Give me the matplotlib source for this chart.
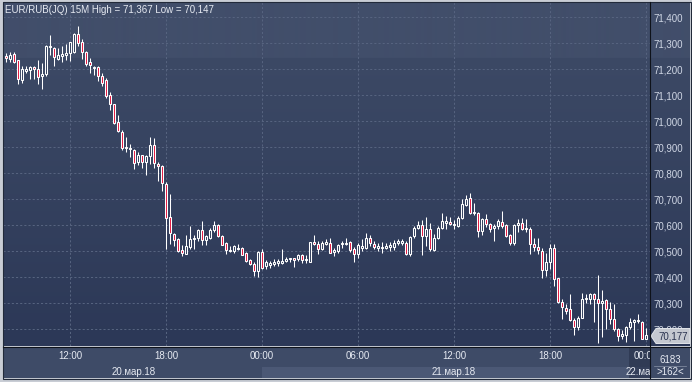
import matplotlib
matplotlib.use("Agg")
import matplotlib.pyplot as plt
import numpy as np
from matplotlib.patches import Rectangle, Polygon
from matplotlib.lines import Line2D
from matplotlib.colors import to_rgb

plt.rcParams['font.family'] = ['Liberation Sans', 'DejaVu Sans']

# EUR/RUB 15M candles, index -1 = 07:45 20.03, index 160 = 00:00 22.03
first_idx = -1
opens = [71.262, 71.252, 71.241, 71.258, 71.234, 71.157, 71.192, 71.196, 71.209, 71.201, 71.173,
         71.182, 71.285, 71.281, 71.239, 71.252, 71.254, 71.262, 71.266, 71.334, 71.304,
         71.265, 71.227, 71.205, 71.209, 71.176, 71.157, 71.100, 71.067, 70.997, 70.959,
         70.898, 70.894, 70.888, 70.844, 70.869, 70.844, 70.867, 70.908, 70.837, 70.828,
         70.760, 70.632, 70.568, 70.549, 70.504, 70.491, 70.517, 70.546, 70.551, 70.583,
         70.542, 70.551, 70.581, 70.603, 70.559, 70.533, 70.501, 70.500, 70.508, 70.513,
         70.494, 70.465, 70.453, 70.423, 70.497, 70.442, 70.449, 70.453, 70.456, 70.456,
         70.462, 70.469, 70.474, 70.472, 70.485, 70.465, 70.460, 70.536, 70.527, 70.510,
         70.527, 70.531, 70.499, 70.501, 70.527, 70.529, 70.536, 70.508, 70.491, 70.514,
         70.514, 70.553, 70.529, 70.514, 70.513, 70.514, 70.517, 70.518, 70.531, 70.533,
         70.533, 70.488, 70.559, 70.591, 70.600, 70.559, 70.585, 70.505, 70.550, 70.591,
         70.610, 70.614, 70.600, 70.597, 70.629, 70.677, 70.704, 70.646, 70.649, 70.578,
         70.626, 70.604, 70.591, 70.597, 70.613, 70.600, 70.562, 70.531, 70.600, 70.610,
         70.591, 70.587, 70.529, 70.518, 70.501, 70.428, 70.460, 70.514, 70.399, 70.305,
         70.283, 70.277, 70.236, 70.210, 70.245, 70.315, 70.315, 70.337, 70.315, 70.303,
         70.312, 70.279, 70.241, 70.203, 70.174, 70.177, 70.210, 70.228, 70.232, 70.228,
         70.164]
highs = [71.272, 71.262, 71.265, 71.265, 71.237, 71.211, 71.211, 71.214, 71.214, 71.237, 71.224,
         71.294, 71.332, 71.287, 71.281, 71.290, 71.296, 71.306, 71.338, 71.367, 71.315,
         71.272, 71.243, 71.214, 71.211, 71.186, 71.167, 71.113, 71.068, 71.023, 70.968,
         70.940, 70.914, 70.895, 70.882, 70.872, 70.869, 70.940, 70.936, 70.844, 70.833,
         70.767, 70.722, 70.570, 70.551, 70.523, 70.564, 70.596, 70.564, 70.587, 70.615,
         70.564, 70.590, 70.617, 70.606, 70.564, 70.536, 70.519, 70.523, 70.529, 70.517,
         70.497, 70.472, 70.459, 70.500, 70.508, 70.465, 70.463, 70.469, 70.472, 70.508,
         70.478, 70.476, 70.476, 70.488, 70.488, 70.485, 70.537, 70.562, 70.540, 70.540,
         70.546, 70.553, 70.514, 70.527, 70.540, 70.553, 70.540, 70.518, 70.531, 70.549,
         70.569, 70.562, 70.540, 70.531, 70.536, 70.531, 70.536, 70.544, 70.546, 70.549,
         70.540, 70.559, 70.597, 70.617, 70.621, 70.633, 70.610, 70.565, 70.597, 70.649,
         70.636, 70.633, 70.621, 70.636, 70.700, 70.715, 70.726, 70.687, 70.651, 70.629,
         70.645, 70.610, 70.604, 70.626, 70.655, 70.604, 70.565, 70.604, 70.623, 70.629,
         70.623, 70.595, 70.553, 70.553, 70.514, 70.492, 70.529, 70.529, 70.399, 70.318,
         70.296, 70.335, 70.245, 70.251, 70.338, 70.335, 70.341, 70.341, 70.408, 70.351,
         70.318, 70.305, 70.296, 70.206, 70.197, 70.213, 70.245, 70.241, 70.258, 70.232,
         70.206]
lows = [71.249, 71.230, 71.227, 71.224, 71.142, 71.146, 71.186, 71.163, 71.161, 71.142, 71.125,
        71.173, 71.256, 71.211, 71.237, 71.228, 71.234, 71.232, 71.263, 71.290, 71.239,
        71.211, 71.184, 71.180, 71.154, 71.135, 71.091, 71.042, 70.991, 70.959, 70.888,
        70.882, 70.863, 70.815, 70.831, 70.821, 70.795, 70.837, 70.821, 70.769, 70.731,
        70.510, 70.529, 70.521, 70.497, 70.482, 70.488, 70.510, 70.510, 70.538, 70.523,
        70.523, 70.546, 70.574, 70.555, 70.523, 70.491, 70.497, 70.494, 70.504, 70.485,
        70.459, 70.449, 70.405, 70.401, 70.431, 70.431, 70.436, 70.444, 70.442, 70.453,
        70.459, 70.459, 70.440, 70.463, 70.455, 70.456, 70.459, 70.523, 70.488, 70.505,
        70.523, 70.492, 70.482, 70.492, 70.514, 70.524, 70.497, 70.459, 70.473, 70.500,
        70.510, 70.521, 70.510, 70.501, 70.495, 70.508, 70.501, 70.505, 70.523, 70.523,
        70.485, 70.482, 70.553, 70.585, 70.485, 70.521, 70.501, 70.501, 70.546, 70.585,
        70.587, 70.600, 70.587, 70.595, 70.626, 70.674, 70.642, 70.638, 70.556, 70.562,
        70.594, 70.574, 70.540, 70.585, 70.591, 70.556, 70.523, 70.523, 70.574, 70.582,
        70.574, 70.488, 70.501, 70.488, 70.399, 70.405, 70.431, 70.367, 70.303, 70.241,
        70.258, 70.232, 70.177, 70.197, 70.242, 70.303, 70.296, 70.228, 70.147, 70.172,
        70.203, 70.219, 70.194, 70.155, 70.162, 70.150, 70.200, 70.155, 70.223, 70.162,
        70.162]
closes = [71.266, 71.243, 71.256, 71.227, 71.163, 71.201, 71.201, 71.210, 71.201, 71.171, 71.182,
          71.291, 71.291, 71.247, 71.256, 71.259, 71.262, 71.306, 71.335, 71.303, 71.266,
          71.220, 71.216, 71.209, 71.173, 71.148, 71.097, 71.068, 70.995, 70.962, 70.897,
          70.899, 70.899, 70.840, 70.869, 70.844, 70.867, 70.908, 70.840, 70.828, 70.763,
          70.628, 70.570, 70.542, 70.501, 70.495, 70.519, 70.549, 70.551, 70.583, 70.542,
          70.558, 70.581, 70.600, 70.559, 70.526, 70.504, 70.506, 70.519, 70.513, 70.487,
          70.463, 70.453, 70.423, 70.497, 70.436, 70.459, 70.456, 70.459, 70.463, 70.463,
          70.472, 70.474, 70.465, 70.485, 70.465, 70.472, 70.536, 70.527, 70.508, 70.531,
          70.537, 70.495, 70.504, 70.523, 70.533, 70.533, 70.505, 70.491, 70.523, 70.520,
          70.553, 70.533, 70.518, 70.520, 70.518, 70.520, 70.523, 70.533, 70.540, 70.540,
          70.488, 70.556, 70.591, 70.600, 70.559, 70.585, 70.508, 70.553, 70.591, 70.617,
          70.617, 70.606, 70.606, 70.629, 70.681, 70.703, 70.649, 70.653, 70.578, 70.626,
          70.604, 70.587, 70.597, 70.617, 70.597, 70.559, 70.531, 70.600, 70.610, 70.587,
          70.585, 70.529, 70.517, 70.504, 70.427, 70.460, 70.514, 70.395, 70.306, 70.287,
          70.271, 70.236, 70.210, 70.245, 70.318, 70.322, 70.337, 70.315, 70.303, 70.308,
          70.277, 70.238, 70.203, 70.174, 70.181, 70.210, 70.228, 70.236, 70.236, 70.164,
          70.177]

price_ticks = [70.2, 70.3, 70.4, 70.5, 70.6, 70.7, 70.8, 70.9, 71.0, 71.1, 71.2, 71.3, 71.4]
time_ticks = [16, 40, 64, 88, 112, 136, 160]
time_labels = ["12:00", "18:00", "00:00", "06:00", "12:00", "18:00", "00:00"]
date_pos = [32, 112, 160.5]
date_labels = ["20.мар.18", "21.мар.18", "22.мар.18"]
title = "EUR/RUB(JQ) 15M High = 71,367 Low = 70,147"
last_price = "70,177"
footer_top = "6183"
footer_bottom = ">162<"

W, H = 692, 382
fig = plt.figure(figsize=(W / 100, H / 100), dpi=100, facecolor='#c9cdd5')


def box(x0, y0, x1, y1):
    return [x0 / W, 1 - y1 / H, (x1 - x0) / W, (y1 - y0) / H]


def fx(x):
    return x / W


def fy(y):
    return 1 - y / H


# background gradient for plot + price scale
bg = fig.add_axes(box(3, 2, 690, 346))
bg.axis('off')
rows = 344
c0, c1, c2 = np.array(to_rgb('#414e6a')), np.array(to_rgb('#3c4965')), np.array(to_rgb('#2c3857'))
grad = np.zeros((rows, 1, 3))
for r in range(rows):
    if r < 56:
        grad[r, 0] = c0
    else:
        t = (r - 56) / (rows - 56)
        grad[r, 0] = c1 * (1 - t) + c2 * t
bg.imshow(grad, aspect='auto', extent=[0, 1, 0, 1], interpolation='bilinear')

ax = fig.add_axes(box(3, 2, 649.5, 346), facecolor='none')
x0_lim = -0.75
x1_lim = (649.5 - 6) / 4
ax.set_xlim(x0_lim, x1_lim)
ax.set_ylim(71.4 - (346 - 17.3) / 260, 71.4 + (17.3 - 2) / 260)

ax.set_yticks(price_ticks)
ax.set_yticklabels([f"{p:.3f}".replace('.', ',') for p in price_ticks])
ax.yaxis.tick_right()
ax.tick_params(axis='y', length=0, pad=3, labelsize=7, labelcolor='#cfd6e4')
ax.set_xticks(time_ticks)
ax.tick_params(axis='x', length=0, labelbottom=False)
ax.grid(True, color='#56637f', lw=0.75, linestyle=(0, (2, 2)))
ax.set_axisbelow(True)
for s in ax.spines.values():
    s.set_visible(False)

idx = np.arange(first_idx, first_idx + len(opens))
o = np.array(opens)
h = np.array(highs)
l = np.array(lows)
c = np.array(closes)
ax.vlines(idx, l, h, color='white', lw=0.75, zorder=3)
for i, oo, cc in zip(idx, o, c):
    lo = min(oo, cc)
    hgt = max(abs(cc - oo), 0.004)
    fc = '#e2163f' if cc < oo else '#34405d'
    ax.add_patch(Rectangle((i - 0.25, lo), 0.5, hgt, facecolor=fc,
                           edgecolor='white', lw=0.75, zorder=4))

# title
fig.text(fx(5), fy(10), title, fontsize=7, color='#e6eaf2', va='center', ha='left')

# current price marker (covers the lower part of the 70,200 label, as in the source)
pts = [(651, 336), (656, 328.5), (690, 328.5), (690, 343.5), (656, 343.5)]
fig.add_artist(Polygon([(fx(x), fy(y)) for x, y in pts], closed=True,
                       facecolor='#c4c8d0', edgecolor='#e2e5ea', lw=0.7,
                       transform=fig.transFigure))
fig.text(fx(673), fy(336.5), last_price, fontsize=7, color='#2a3350', ha='center', va='center')

# time axis
axb = fig.add_axes(box(3, 346.5, 649.5, 378), facecolor='#3e4b67')
axb.set_xlim(x0_lim, x1_lim)
axb.set_ylim(1, 0)
axb.axis('off')
axb.add_patch(Rectangle((x0_lim, 0), x1_lim - x0_lim, 1, facecolor='#3e4b67', lw=0))
axb.add_patch(Rectangle((64, 0.64), x1_lim - 64, 0.36, facecolor='#4b5875', lw=0))
for p, t in zip(time_ticks, time_labels):
    axb.text(p, 0.3, t, fontsize=7, color='#e6eaf2', ha='center', va='center', clip_on=True)
for p, t in zip(date_pos, date_labels):
    axb.text(p, 0.82, t, fontsize=7, color='#e6eaf2', ha='center', va='center', clip_on=True)
axb.add_patch(Rectangle((155.8, 0), x1_lim - 155.8, 1, facecolor='#27314a', alpha=0.6, lw=0))

# footer box right
axr = fig.add_axes(box(650, 346.5, 690, 378), facecolor='#3e4b67')
axr.axis('off')
axr.add_patch(Rectangle((0, 0), 1, 1, facecolor='#3e4b67', lw=0, transform=axr.transAxes))
fig.text(fx(670), fy(360), footer_top, fontsize=7, color='#e6eaf2', ha='center', va='center')
fig.text(fx(670), fy(372), footer_bottom, fontsize=7, color='#e6eaf2', ha='center', va='center')
fig.add_artist(Line2D([fx(654), fx(686)], [fy(366), fy(366)], color='#8a94a8', lw=0.5))

# separators and frame
fig.add_artist(Line2D([fx(649.5), fx(649.5)], [fy(2), fy(378)], color='#0e121a', lw=0.8))
fig.add_artist(Line2D([fx(3), fx(690)], [fy(346.5), fy(346.5)], color='#0e121a', lw=0.8))
fig.add_artist(Rectangle((fx(2.5), fy(378.5)), fx(688), (378.5 - 1.5) / H, fill=False,
                         edgecolor='#222a3a', lw=0.8, transform=fig.transFigure))

fig.savefig('out.png', dpi=100, facecolor=fig.get_facecolor())
